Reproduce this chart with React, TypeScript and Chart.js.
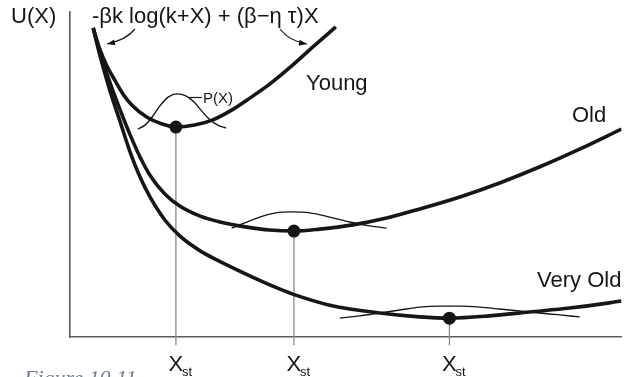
import React, { useEffect, useRef } from "react";
import { Chart, registerables } from "chart.js";

Chart.register(...registerables);

// ---- Data (X in axis units 0..10, U in axis units 0..10) ----
const youngX = [0.42, 0.54, 0.67, 0.82, 0.96, 1.12, 1.39, 1.63, 1.92, 2.26, 2.59, 2.93, 3.26, 3.62, 4.02, 4.42, 4.82];
const youngU = [9.51, 8.86, 8.34, 7.88, 7.48, 7.14, 6.77, 6.58, 6.46, 6.52, 6.68, 6.98, 7.35, 7.78, 8.34, 8.95, 9.54];

const oldX = [0.42, 0.54, 0.72, 0.91, 1.09, 1.27, 1.45, 1.72, 1.99, 2.36, 2.72, 3.21, 3.62, 4.06, 4.53, 5.13, 5.74, 6.34, 7.07, 7.79, 8.51, 9.24, 10.0];
const oldU = [9.51, 8.77, 7.85, 6.98, 6.22, 5.54, 4.98, 4.40, 4.03, 3.72, 3.54, 3.38, 3.29, 3.26, 3.32, 3.45, 3.66, 3.94, 4.31, 4.74, 5.23, 5.78, 6.40];

const veryOldX = [0.42, 0.54, 0.72, 0.91, 1.09, 1.27, 1.45, 1.72, 1.99, 2.36, 2.77, 3.26, 3.71, 4.04, 4.71, 5.62, 6.34, 6.88, 7.61, 8.33, 9.06, 9.78, 10.0];
const veryOldU = [9.51, 8.68, 7.60, 6.62, 5.69, 4.92, 4.31, 3.60, 3.11, 2.65, 2.28, 1.88, 1.54, 1.32, 0.98, 0.74, 0.62, 0.58, 0.65, 0.77, 0.89, 1.05, 1.11];

const pYoungX = [1.23, 1.36, 1.49, 1.63, 1.78, 1.94, 2.10, 2.25, 2.39, 2.54, 2.68, 2.83];
const pYoungU = [6.40, 6.52, 6.77, 7.11, 7.38, 7.48, 7.42, 7.23, 6.95, 6.68, 6.52, 6.43];

const pOldX = [2.93, 3.17, 3.44, 3.73, 4.02, 4.35, 4.71, 5.07, 5.43, 5.74];
const pOldU = [3.35, 3.51, 3.69, 3.82, 3.85, 3.82, 3.69, 3.54, 3.42, 3.35];

const pVeryOldX = [4.89, 5.25, 5.62, 5.98, 6.34, 6.70, 7.07, 7.43, 7.79, 8.15, 8.51, 8.88, 9.24];
const pVeryOldU = [0.58, 0.65, 0.74, 0.83, 0.92, 0.95, 0.95, 0.92, 0.86, 0.80, 0.74, 0.68, 0.62];

// Stationary points X_st
const xstX = [1.92, 4.06, 6.88];
const xstU = [6.46, 3.26, 0.58];
const xstTickMain = ["X", "X", "X"];
const xstTickSub = ["st", "st", "st"];
const tickBottomU = -0.25;

const curveLabels = ["Young", "Old", "Very Old"];
const formulaText = "-βk log(k+X) + (β−η τ)X";
const yAxisLabel = "U(X)";
const densityLabel = "P(X)";
const captionText = "Figure 10.11";

const pts = (xs: number[], ys: number[]) => xs.map((x, i) => ({ x, y: ys[i] }));

const SANS = '"Liberation Sans", Arial, Helvetica, sans-serif';
const INK = "#161616";

function arrow(ctx: CanvasRenderingContext2D, x0: number, y0: number, cx: number, cy: number, x1: number, y1: number) {
  ctx.beginPath();
  ctx.moveTo(x0, y0);
  ctx.quadraticCurveTo(cx, cy, x1, y1);
  ctx.stroke();
  const a = Math.atan2(y1 - cy, x1 - cx);
  const L = 8, W = 3;
  ctx.beginPath();
  ctx.moveTo(x1, y1);
  ctx.lineTo(x1 - L * Math.cos(a) + W * Math.sin(a), y1 - L * Math.sin(a) - W * Math.cos(a));
  ctx.lineTo(x1 - L * Math.cos(a) - W * Math.sin(a), y1 - L * Math.sin(a) + W * Math.cos(a));
  ctx.closePath();
  ctx.fill();
}

const annotations = {
  id: "annotations",
  afterDraw(chart: any) {
    const ctx: CanvasRenderingContext2D = chart.ctx;
    const xs = chart.scales.x;
    ctx.save();
    ctx.fillStyle = INK;
    ctx.strokeStyle = INK;
    ctx.textBaseline = "alphabetic";
    ctx.textAlign = "left";

    ctx.font = `22px ${SANS}`;
    ctx.fillText(yAxisLabel, 11, 23);
    ctx.fillText(formulaText, 92, 23);

    ctx.fillText(curveLabels[0], 306, 90);
    ctx.fillText(curveLabels[1], 572, 122);
    ctx.fillText(curveLabels[2], 537, 287);

    ctx.font = `15px ${SANS}`;
    ctx.fillText(densityLabel, 203, 103);
    ctx.lineWidth = 1.2;
    ctx.beginPath();
    ctx.moveTo(189, 97.5);
    ctx.lineTo(202, 97.5);
    ctx.stroke();

    ctx.lineWidth = 1.2;
    arrow(ctx, 135, 29, 126, 40, 107, 44);
    arrow(ctx, 280, 29, 289, 41, 307, 44);

    for (let i = 0; i < xstX.length; i++) {
      const px = xs.getPixelForValue(xstX[i]);
      ctx.textAlign = "center";
      ctx.font = `22px ${SANS}`;
      ctx.fillText(xstTickMain[i], px, 371);
      ctx.textAlign = "left";
      ctx.font = `13px ${SANS}`;
      ctx.fillText(xstTickSub[i], px + 6, 376);
    }

    ctx.textAlign = "left";
    ctx.fillStyle = "#6d7f96";
    ctx.font = `italic 22px "Liberation Serif", "Times New Roman", serif`;
    ctx.fillText(captionText, 24, 385);
    ctx.restore();
  },
};

export default function App() {
  const ref = useRef<HTMLCanvasElement | null>(null);

  useEffect(() => {
    if (!ref.current) return;
    const thick = { borderColor: INK, borderWidth: 3.6, pointRadius: 0, fill: false, cubicInterpolationMode: "monotone" as const, order: 1 };
    const thin = { borderColor: INK, borderWidth: 1.4, pointRadius: 0, fill: false, cubicInterpolationMode: "monotone" as const, order: 2 };
    const vlines = xstX.map((x, i) => ({
      data: [{ x, y: xstU[i] }, { x, y: tickBottomU }],
      borderColor: "#8a8a8a",
      borderWidth: 1.3,
      pointRadius: 0,
      clip: false as any,
      order: 3,
    }));
    const chart = new Chart(ref.current, {
      type: "line",
      data: {
        datasets: [
          {
            data: pts(xstX, xstU),
            showLine: false,
            pointRadius: 6.5,
            pointHoverRadius: 6.5,
            pointBackgroundColor: INK,
            pointBorderWidth: 0,
            borderColor: INK,
            order: 0,
          } as any,
          { data: pts(youngX, youngU), ...thick },
          { data: pts(oldX, oldU), ...thick },
          { data: pts(veryOldX, veryOldU), ...thick },
          { data: pts(pYoungX, pYoungU), ...thin },
          { data: pts(pOldX, pOldU), ...thin },
          { data: pts(pVeryOldX, pVeryOldU), ...thin },
          ...vlines,
        ],
      },
      options: {
        responsive: false,
        animation: false,
        devicePixelRatio: 1,
        events: [],
        layout: { padding: { left: 70, right: 6, top: 12, bottom: 40 } },
        plugins: { legend: { display: false }, tooltip: { enabled: false } },
        scales: {
          x: {
            type: "linear",
            min: 0,
            max: 10,
            grid: { display: false, drawTicks: false, tickLength: 0 },
            ticks: { display: false, padding: 0 },
            border: { display: true, color: "#5a5a5a", width: 1.6 },
            afterFit: (s: any) => { s.height = 0; },
          },
          y: {
            type: "linear",
            min: 0,
            max: 10,
            grid: { display: false, drawTicks: false, tickLength: 0 },
            ticks: { display: false, padding: 0 },
            border: { display: true, color: "#5a5a5a", width: 1.6 },
            afterFit: (s: any) => { s.width = 0; },
          },
        },
      },
      plugins: [annotations],
    });
    return () => chart.destroy();
  }, []);

  return (
    <div style={{ position: "absolute", left: 0, top: 0, width: 628, height: 377, background: "#fff" }}>
      <canvas ref={ref} width={628} height={377} style={{ display: "block" }} />
    </div>
  );
}
